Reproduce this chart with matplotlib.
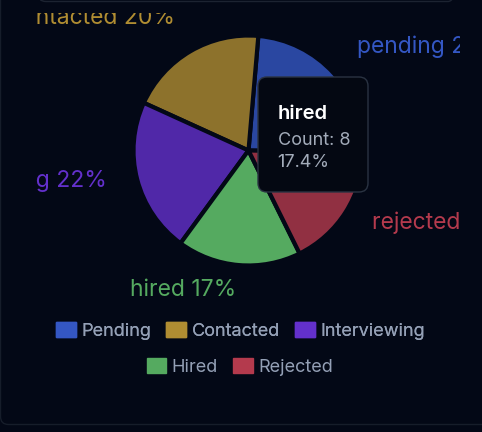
import numpy as np
import matplotlib.pyplot as plt
from matplotlib.colors import to_rgb
from matplotlib.patches import Patch, FancyBboxPatch

# data
statuses = ['pending', 'contacted', 'interviewing', 'hired', 'rejected']
legend_names = ['Pending', 'Contacted', 'Interviewing', 'Hired', 'Rejected']
counts = [11, 9, 10, 8, 8]
colors = ['#3457c4', '#b08d32', '#6330cc', '#55aa60', '#b43a4d']
active = 'hired'   # slice under the tooltip

BG = '#030816'
W, H = 482, 432

plt.rcParams['font.family'] = ['Inter', 'DejaVu Sans']

fig = plt.figure(figsize=(W / 100, H / 100), dpi=100, facecolor=BG)


def px_box(x0, y0, x1, y1):
    return [x0 / W, 1 - y1 / H, (x1 - x0) / W, (y1 - y0) / H]


def blend(c, a=0.8):
    c, b = np.array(to_rgb(c)), np.array(to_rgb(BG))
    return tuple(a * c + (1 - a) * b)


# chart area, pie centre at (248.5, 150.5) px with radius 115 px
left, top, right, bottom = 36, 13, 460, 310
cx, cy, R = 248.5, 150.5, 115
ax = fig.add_axes(px_box(left, top, right, bottom))
ax.set_facecolor(BG)
ax.axis('off')

total = sum(counts)
faces = [c if s == active else blend(c) for s, c in zip(statuses, colors)]
wedges, _ = ax.pie(counts, colors=faces, startangle=-1, counterclock=True, radius=1,
                   wedgeprops=dict(edgecolor=BG, linewidth=3))
ax.set_xlim((left - cx) / R, (right - cx) / R)
ax.set_ylim(-(bottom - cy) / R, (cy - top) / R)
ax.set_aspect('auto')

# outside labels (clipped by the chart area like the original)
for w, s, n, c in zip(wedges, statuses, counts, colors):
    mid = np.deg2rad((w.theta1 + w.theta2) / 2)
    x, y = 1.27 * np.cos(mid), 1.27 * np.sin(mid)
    ax.text(x, y, f'{s} {n / total * 100:.0f}%', color=c, fontsize=16.5,
            ha='left' if x > 0 else 'right', va='baseline', clip_on=True)

# overlay in pixel coords for tooltip and card edges
ov = fig.add_axes([0, 0, 1, 1])
ov.set_xlim(0, W)
ov.set_ylim(H, 0)
ov.axis('off')
ov.patch.set_alpha(0)

ov.add_patch(FancyBboxPatch((38, -30), 418, 31.5, boxstyle='round,pad=0,rounding_size=8',
                            fc='none', ec='#1c2331', lw=1))
ov.add_patch(FancyBboxPatch((0.5, -50), 520, 474.5, boxstyle='round,pad=0,rounding_size=8',
                            fc='none', ec='#161d2a', lw=1))

# tooltip
i = statuses.index(active)
ov.add_patch(FancyBboxPatch((258, 77), 110, 115, boxstyle='round,pad=0,rounding_size=9',
                            fc='#040812', ec='#2a3342', lw=1, zorder=5))
ov.text(277.5, 119.3, active, color='white', fontsize=14.5, fontweight='semibold',
        va='baseline', zorder=6)
ov.text(277.5, 145, f'Count: {counts[i]}', color='#a3acba', fontsize=13,
        va='baseline', zorder=6)
ov.text(277.5, 167.3, f'{counts[i] / total * 100:.1f}%', color='#a3acba', fontsize=13,
        va='baseline', zorder=6)

# legend, two centred rows
handles = [Patch(facecolor=c, edgecolor=c, label=n) for c, n in zip(colors, legend_names)]
leg_kw = dict(loc='center', frameon=False, fontsize=13, labelcolor='#94a0b6',
              handlelength=1.1, handleheight=0.85, handletextpad=0.3, columnspacing=0.85,
              borderaxespad=0, borderpad=0)
leg1 = fig.legend(handles=handles[:3], ncol=3, bbox_to_anchor=(240.5 / W, 1 - 331 / H), **leg_kw)
fig.add_artist(leg1)
fig.legend(handles=handles[3:], ncol=2, bbox_to_anchor=(240 / W, 1 - 367 / H), **leg_kw)

fig.savefig('out.png', dpi=100, facecolor=BG)
